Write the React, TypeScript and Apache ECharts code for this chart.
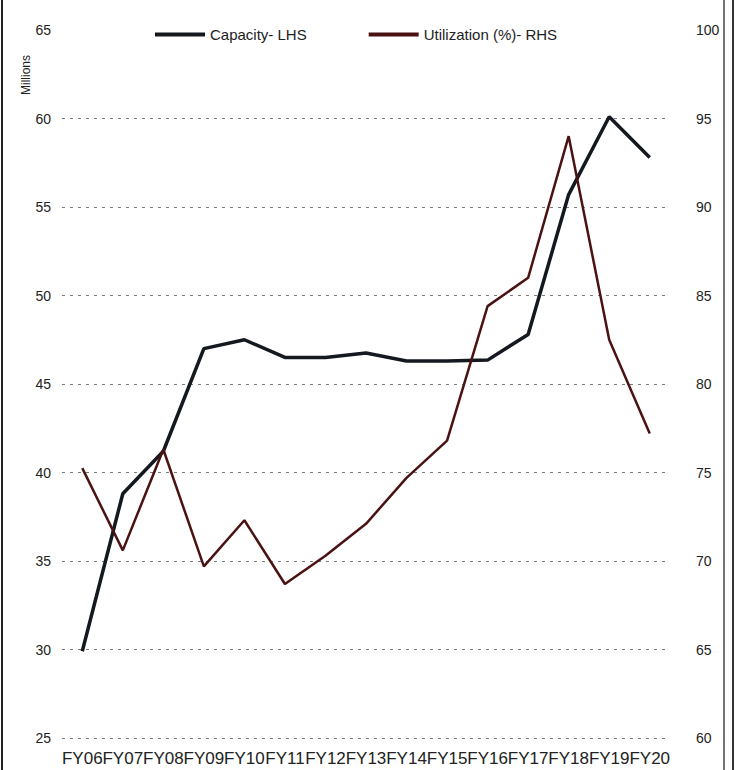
import React, { useEffect, useRef } from "react";
import * as echarts from "echarts";

const categories = ["FY06", "FY07", "FY08", "FY09", "FY10", "FY11", "FY12", "FY13", "FY14", "FY15", "FY16", "FY17", "FY18", "FY19", "FY20"];
const capacity = [29.9, 38.8, 41.2, 47.0, 47.5, 46.5, 46.5, 46.75, 46.3, 46.3, 46.35, 47.8, 55.7, 60.1, 57.8];
const utilization = [75.25, 70.6, 76.3, 69.7, 72.3, 68.7, 70.3, 72.1, 74.7, 76.8, 84.4, 86.0, 94.0, 82.5, 77.2];
const seriesNames = ["Capacity- LHS", "Utilization (%)- RHS"];

export default function App() {
  const ref = useRef<HTMLDivElement>(null);
  useEffect(() => {
    document.body.style.margin = "0";
    const chart = echarts.init(ref.current!, null, { renderer: "svg" });
    const font = "'Liberation Sans', Arial, sans-serif";
    chart.setOption({
      animation: false,
      backgroundColor: "#ffffff",
      textStyle: { fontFamily: font },
      grid: { left: 62, right: 68, top: 30, bottom: 32, containLabel: false },
      legend: {
        top: 22,
        left: 150,
        itemGap: 62,
        itemWidth: 50,
        itemHeight: 4,
        icon: "rect",
        textStyle: { fontSize: 15, color: "#222", fontFamily: font },
        data: seriesNames,
      },
      graphic: [
        {
          type: "text",
          x: 20,
          y: 95,
          rotation: Math.PI / 2,
          style: { text: "Millions", fontSize: 12, fill: "#222", fontFamily: font },
        },
        { type: "line", shape: { x1: 2, y1: 0, x2: 2, y2: 770 }, style: { stroke: "#222", lineWidth: 2 } },
        { type: "line", shape: { x1: 724, y1: 0, x2: 724, y2: 770 }, style: { stroke: "#444", lineWidth: 1.5 } },
        { type: "line", shape: { x1: 733, y1: 0, x2: 733, y2: 770 }, style: { stroke: "#333", lineWidth: 2 } },
      ],
      xAxis: {
        type: "category",
        data: categories,
        boundaryGap: true,
        axisLine: { show: false },
        axisTick: { show: false },
        axisLabel: { fontSize: 17, color: "#222", margin: 12, interval: 0, fontFamily: font },
      },
      yAxis: [
        {
          type: "value",
          min: 25,
          max: 65,
          interval: 5,
          axisLine: { show: false },
          axisTick: { show: false },
          axisLabel: { fontSize: 14, color: "#222", margin: 11, fontFamily: font },
          splitLine: {
            show: true,
            showMaxLine: false,
            lineStyle: { color: "#7a7a7a", type: [3, 5], width: 1 },
          },
        },
        {
          type: "value",
          min: 60,
          max: 100,
          interval: 5,
          position: "right",
          axisLine: { show: false },
          axisTick: { show: false },
          axisLabel: { fontSize: 14, color: "#222", margin: 26, fontFamily: font },
          splitLine: { show: false },
        },
      ],
      series: [
        {
          name: seriesNames[0],
          type: "line",
          yAxisIndex: 0,
          data: capacity,
          symbol: "none",
          lineStyle: { color: "#14181f", width: 3.5 },
          itemStyle: { color: "#14181f" },
        },
        {
          name: seriesNames[1],
          type: "line",
          yAxisIndex: 1,
          data: utilization,
          symbol: "none",
          lineStyle: { color: "#4a1212", width: 2.5 },
          itemStyle: { color: "#4a1212" },
        },
      ],
    });
    return () => chart.dispose();
  }, []);
  return <div ref={ref} style={{ width: 738, height: 770 }} />;
}
